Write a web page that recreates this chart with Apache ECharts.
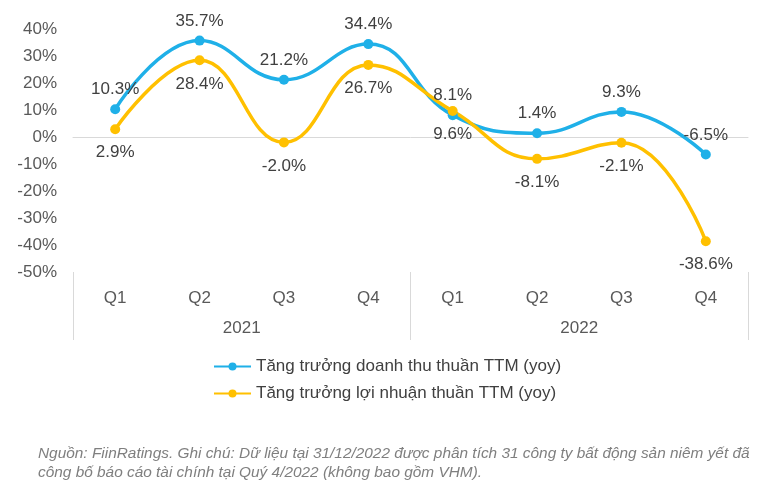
<!DOCTYPE html>
<html><head><meta charset="utf-8">
<script src="https://cdn.jsdelivr.net/npm/echarts@6/dist/echarts.min.js"></script>
<style>html,body{margin:0;padding:0;background:#fff}#c{width:765px;height:501px}</style>
</head><body><div id="c"></div>
<script>
const quarters = ['Q1','Q2','Q3','Q4','Q1','Q2','Q3','Q4'];
const years = ['2021','2022'];
const revenueGrowth = [10.3, 35.7, 21.2, 34.4, 8.1, 1.4, 9.3, -6.5];
const profitGrowth = [2.9, 28.4, -2.0, 26.7, 9.6, -8.1, -2.1, -38.6];
const yTicks = {min: -50, max: 40, interval: 10};
const seriesNames = ['Tăng trưởng doanh thu thuần TTM (yoy)', 'Tăng trưởng lợi nhuận thuần TTM (yoy)'];
const note = 'Nguồn: FiinRatings. Ghi chú: Dữ liệu tại 31/12/2022 được phân tích 31 công ty bất động sản niêm yết đã\ncông bố báo cáo tài chính tại Quý 4/2022 (không bao gồm VHM).';

const font = 'Liberation Sans, Arial, sans-serif';
const chart = echarts.init(document.getElementById('c'));
chart.setOption({
  animation: false,
  textStyle: {fontFamily: font},
  grid: {left: 73, right: 17, top: 29, bottom: 229},
  title: {
    text: note, left: 38, top: 444, padding: 0,
    textStyle: {fontFamily: font, fontSize: 15.4, fontStyle: 'italic', fontWeight: 'normal', color: '#7f7f7f', lineHeight: 19}
  },
  legend: {
    orient: 'vertical', left: 208, top: 353, itemGap: 10, itemWidth: 37, itemHeight: 10,
    textStyle: {fontFamily: font, fontSize: 17, color: '#404040'},
    data: seriesNames
  },
  xAxis: [
    {type: 'category', data: quarters, position: 'bottom',
     axisLine: {onZero: true, lineStyle: {color: '#d9d9d9', width: 1}},
     axisTick: {show: false}, axisLabel: {show: false}},
    {type: 'category', data: quarters, position: 'bottom',
     axisLine: {show: false}, axisTick: {show: false},
     axisLabel: {margin: 18, fontSize: 17, color: '#595959', fontFamily: font}},
    {type: 'category', data: years, position: 'bottom',
     axisLine: {show: false},
     axisTick: {show: true, length: 68, lineStyle: {color: '#d9d9d9'}},
     axisLabel: {margin: 48, fontSize: 17, color: '#595959', fontFamily: font}}
  ],
  yAxis: {
    type: 'value', min: yTicks.min, max: yTicks.max, interval: yTicks.interval,
    axisLine: {show: false}, axisTick: {show: false}, splitLine: {show: false},
    axisLabel: {formatter: '{value}%', fontSize: 17, color: '#595959', margin: 16, fontFamily: font}
  },
  series: [
    {name: seriesNames[0], type: 'line', data: revenueGrowth, smooth: 0.45,
     symbol: 'circle', symbolSize: 10,
     lineStyle: {width: 3.5, color: '#1FB0E8'}, itemStyle: {color: '#1FB0E8'},
     label: {show: true, position: 'top', distance: 6, formatter: p => p.value.toFixed(1) + '%',
             fontSize: 17, color: '#404040', fontFamily: font}},
    {name: seriesNames[1], type: 'line', data: profitGrowth, smooth: 0.45,
     symbol: 'circle', symbolSize: 10,
     lineStyle: {width: 3.5, color: '#FFC000'}, itemStyle: {color: '#FFC000'},
     label: {show: true, position: 'bottom', distance: 10, formatter: p => p.value.toFixed(1) + '%',
             fontSize: 17, color: '#404040', fontFamily: font}}
  ]
});
</script></body></html>
